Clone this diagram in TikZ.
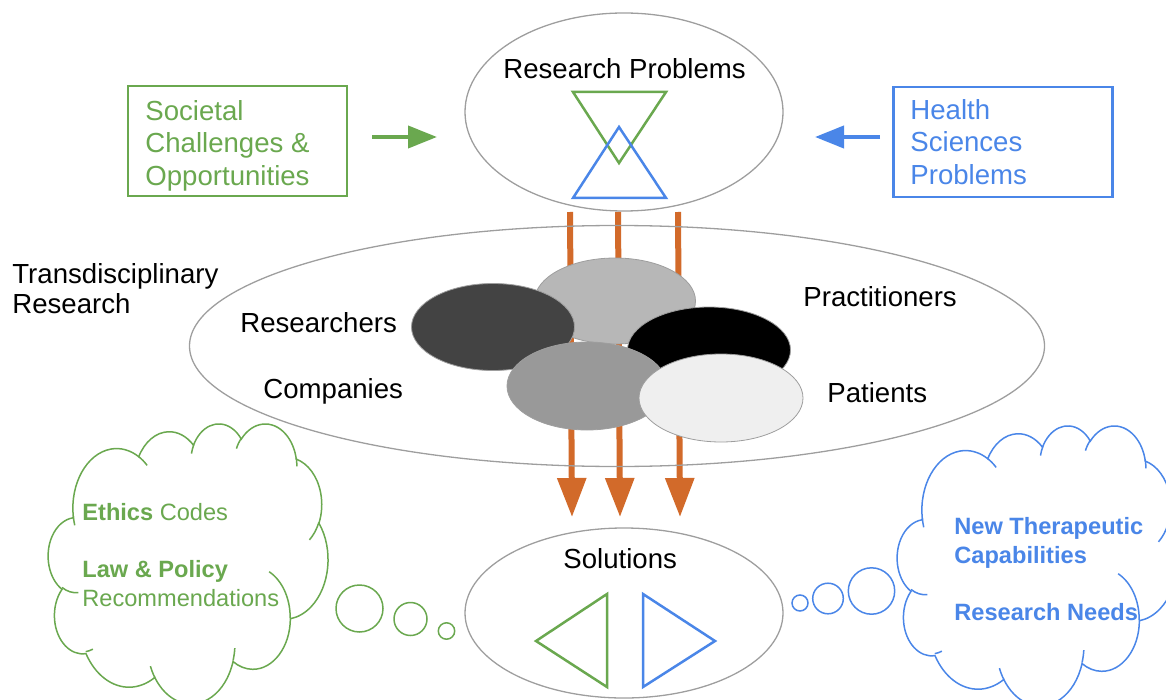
\documentclass[tikz,border=0pt]{standalone}
\usepackage{fontspec}
\setmainfont{Liberation Sans}
\usetikzlibrary{shapes.geometric,arrows.meta}

\definecolor{lgreen}{RGB}{106,168,79}
\definecolor{lblue}{RGB}{74,134,232}
\definecolor{rust}{RGB}{210,106,42}
\definecolor{outl}{RGB}{158,158,158}
\definecolor{blobdark}{HTML}{434343}
\definecolor{blobmid}{HTML}{999999}
\definecolor{bloblight}{HTML}{B7B7B7}
\definecolor{blobpale}{HTML}{EFEFEF}

\tikzset{
  bigfont/.style={font=\fontsize{13.8}{16.3}\selectfont},
  cloudfont/.style={font=\fontsize{11.8}{14.2}\selectfont},
  oval/.style={ellipse, draw=outl, line width=0.65pt, inner sep=0pt},
  blob/.style={ellipse, draw=outl, line width=0.4pt, inner sep=0pt},
  label/.style={bigfont, inner sep=0pt, anchor=base west},
  framebox/.style={draw, line width=1.25pt, inner sep=0pt,
    minimum width=109.5pt, minimum height=55pt},
  boxtext/.style={bigfont, align=left, anchor=west, inner sep=0pt},
  sidearrow/.style={line width=2pt, -{Triangle[width=11pt,length=14.5pt]}},
  flowarrow/.style={rust, line width=3pt, -{Triangle[width=14pt,length=19.5pt]}},
  tri/.style={line width=1.25pt},
  bubble/.style={line width=0.75pt, fill=white, circle, inner sep=0pt},
  % thought cloud outline with its inner puff arcs, on a 432 x 432 grid
  cloudpic/.pic={
    \draw[pic actions, fill=white]
      (39.00,143.70)
      arc[start angle=172.26, end angle=300.38, x radius=67.53, y radius=91.90]
      arc[start angle=-152.02, end angle=-45.47, x radius=53.33, y radius=72.67]
      arc[start angle=-153.48, end angle=-37.32, x radius=43.65, y radius=59.45]
      arc[start angle=-139.71, end angle=-10.21, x radius=48.57, y radius=65.95]
      arc[start angle=-74.75, end angle=23.21, x radius=53.33, y radius=72.73]
      arc[start angle=-37.53, end angle=81.86, x radius=67.75, y radius=92.20]
      arc[start angle=0.46, end angle=121.99, x radius=57.85, y radius=78.67]
      arc[start angle=16.84, end angle=146.22, x radius=67.52, y radius=92.15]
      arc[start angle=59.02, end angle=149.46, x radius=77.20, y radius=105.43]
      arc[start angle=83.30, end angle=223.09, x radius=43.60, y radius=59.18]
      arc[start angle=120.34, end angle=264.11, x radius=43.45, y radius=59.45]
      -- cycle;
    \draw[pic actions]
      (46.93,261.77) arc[start angle=85.54, end angle=120.34, x radius=43.45, y radius=59.45]
      (69.28,348.99) arc[start angle=68.24, end angle=83.30, x radius=43.60, y radius=59.18]
      (164.76,392.69) arc[start angle=146.22, end angle=158.47, x radius=67.52, y radius=92.15]
      (288.27,347.51) arc[start angle=4.74, end angle=16.84, x radius=67.52, y radius=92.15]
      (341.29,229.54) arc[start angle=-63.98, end angle=0.46, x radius=57.85, y radius=78.67]
      (417.98,153.54) arc[start angle=23.21, end angle=49.66, x radius=53.33, y radius=72.73]
      (383.24,54.26) arc[start angle=-10.21, end angle=0.82, x radius=48.57, y radius=65.95]
      (290.78,39.52) arc[start angle=-156.28, end angle=-139.71, x radius=48.57, y radius=65.95]
      (221.41,47.20) arc[start angle=-167.73, end angle=-153.48, x radius=43.65, y radius=59.45]
      (140.00,51.92) arc[start angle=-59.62, end angle=-45.72, x radius=67.53, y radius=91.90]
      (41.27,157.89) arc[start angle=163.19, end angle=172.26, x radius=67.53, y radius=91.90];
  }
}

\begin{document}
\begin{tikzpicture}[x=0.5pt, y=-0.5pt]
\useasboundingbox (0,0) rectangle (1166,700);

% main ovals
\node[oval, minimum width=159pt, minimum height=99pt] (rp) at (624,112) {};
\node[oval, minimum width=159pt, minimum height=85pt] (sol) at (624,613) {};

% hourglass of triangles inside the problems oval
\draw[tri, lgreen] (573,92) -- (666,92) -- (619,163) -- cycle;
\draw[tri, lblue] (619,127) -- (666,198) -- (573,198) -- cycle;

% facing triangles inside the solutions oval
\draw[tri, lgreen] (607,594) -- (607,687) -- (536,641) -- cycle;
\draw[tri, lblue] (643,594) -- (643,687) -- (715,641) -- cycle;

% flows from problems to solutions
\coordinate (f1a) at (570,212); \coordinate (f1b) at (572,517);
\coordinate (f2a) at (618,212); \coordinate (f2b) at (620,517);
\coordinate (f3a) at (678,212); \coordinate (f3b) at (680,517);
\draw[flowarrow] (f1a) -- (f1b);
\draw[flowarrow] (f2a) -- (f2b);
\draw[flowarrow] (f3a) -- (f3b);

% transdisciplinary research field
\node[oval, minimum width=427.5pt, minimum height=120.5pt] (td) at (617,346) {};

% overlapping stakeholder blobs
\node[blob, fill=bloblight, minimum width=80.5pt, minimum height=43pt] (b1) at (615,301) {};
\node[blob, fill=blobdark, minimum width=81.5pt, minimum height=43.5pt] (b2) at (493,327) {};
\node[blob, fill=black, minimum width=81.5pt, minimum height=43pt] (b3) at (709,350) {};
\node[blob, fill=blobmid, minimum width=80pt, minimum height=44pt] (b4) at (587,386) {};
\node[blob, fill=blobpale, minimum width=82pt, minimum height=44pt] (b5) at (721,398) {};

% side boxes
\node[framebox, draw=lgreen] (soc) at (237.5,141) {};
\node[boxtext, text=lgreen] (soct) at (145,145.5)
  {Societal\\Challenges \&\\Opportunities};
\node[framebox, draw=lblue] (hsp) at (1003,142) {};
\node[boxtext, text=lblue] (hspt) at (910,142)
  {Health\\Sciences\\Problems};
\coordinate (ga) at (372,137); \coordinate (gb) at (437,137);
\coordinate (ba) at (880,137); \coordinate (bb) at (815,137);
\draw[sidearrow, lgreen] (ga) -- (gb);
\draw[sidearrow, lblue] (ba) -- (bb);

% labels
\node[label] (trp) at (503,79) {Research Problems};
\node[label] (tsol) at (563,568) {Solutions};
\node[label, anchor=west, align=left, font=\fontsize{13.8}{15}\selectfont] (ttd) at (12,288.5)
  {Transdisciplinary\\Research};
\node[label] (tres) at (240,332) {Researchers};
\node[label] (tpra) at (803,306) {Practitioners};
\node[label] (tcom) at (263,398) {Companies};
\node[label] (tpat) at (827,402) {Patients};

% thought clouds
\pic[draw=lgreen, line width=0.75pt, scale=0.648] at (48,423) {cloudpic};
\pic[draw=lblue, line width=0.75pt, scale=0.648] at (897,425) {cloudpic};

\node[bubble, draw=lgreen, minimum size=23.5pt] (lc1) at (359.5,608.5) {};
\node[bubble, draw=lgreen, minimum size=16.5pt] (lc2) at (410.5,619) {};
\node[bubble, draw=lgreen, minimum size=8.2pt] (lc3) at (446.5,631) {};
\node[bubble, draw=lblue, minimum size=23.2pt] (rc1) at (871.5,591) {};
\node[bubble, draw=lblue, minimum size=15.3pt] (rc2) at (828,598.5) {};
\node[bubble, draw=lblue, minimum size=8pt] (rc3) at (800,603) {};

\node[cloudfont, text=lgreen, align=left, anchor=west, inner sep=0pt] (lct) at (82,555)
  {\textbf{Ethics} Codes\\[14.2pt]\textbf{Law \& Policy}\\Recommendations};
\node[cloudfont, text=lblue, align=left, anchor=west, inner sep=0pt] (rct) at (954,569)
  {\textbf{New Therapeutic}\\\textbf{Capabilities}\\[14.2pt]\textbf{Research Needs}};
\end{tikzpicture}
\end{document}
